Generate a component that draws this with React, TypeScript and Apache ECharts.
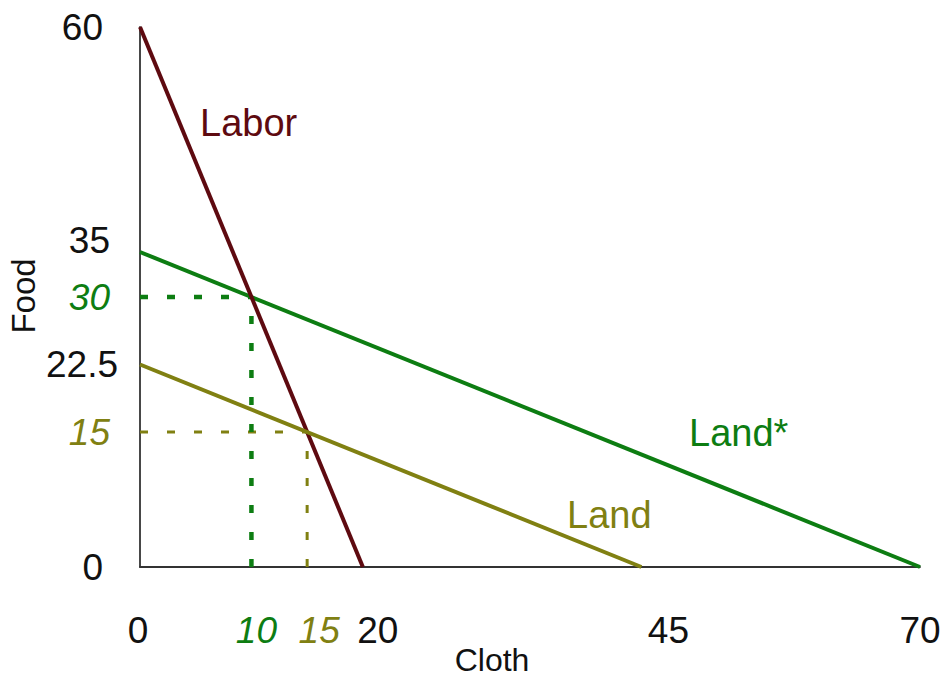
import React, { useEffect, useRef } from "react";
import * as echarts from "echarts";

const laborLine = [[0, 60], [20, 0]];
const landStarLine = [[0, 35], [70, 0]];
const landLine = [[0, 22.5], [45, 0]];
const greenDashH = [[0, 30], [10, 30]];
const greenDashV = [[10, 0], [10, 30]];
const oliveDashH = [[0, 15], [15, 15]];
const oliveDashV = [[15, 0], [15, 15]];
const xTicks = [0, 10, 15, 20, 45, 70];
const yTicks = [0, 15, 22.5, 30, 35, 60];

const MAROON = "#5e0a10";
const GREEN = "#0d7d12";
const OLIVE = "#808012";
const FONT = "'Liberation Sans', Arial, sans-serif";

export default function App() {
  const ref = useRef<HTMLDivElement>(null);
  useEffect(() => {
    const chart = echarts.init(ref.current!, null, { renderer: "svg" });
    const xStyle: Record<string, string> = {
      "0": "x0",
      "10": "x10",
      "15": "x15",
      "20": "x20",
      "45": "x45",
      "70": "x70",
    };
    const yStyle: Record<string, string> = {
      "0": "y0",
      "15": "y15",
      "22.5": "y225",
      "30": "y30",
      "35": "y35",
      "60": "y60",
    };
    const base = { fontSize: 37, fontFamily: FONT, color: "#111" };
    chart.setOption({
      animation: false,
      backgroundColor: "#fff",
      grid: { left: 140, right: 25, top: 27, bottom: 110, containLabel: false },
      xAxis: {
        type: "value",
        min: 0,
        max: 70,
        axisLine: { show: true, lineStyle: { color: "#333", width: 1.8 } },
        axisTick: { show: false },
        splitLine: { show: false },
        axisLabel: {
          customValues: xTicks,
          margin: 45,
          formatter: (v: number) => `{${xStyle[String(v)]}|${v}}`,
          rich: {
            x0: { ...base, padding: [0, 4, 0, 0] },
            x10: { ...base, color: GREEN, fontStyle: "italic", padding: [0, 0, 0, 10] },
            x15: { ...base, color: OLIVE, fontStyle: "italic", padding: [0, 0, 0, 24] },
            x20: { ...base, padding: [0, 0, 0, 30] },
            x45: { ...base, padding: [0, 0, 0, 54] },
            x70: { ...base },
          },
        },
      },
      yAxis: {
        type: "value",
        min: 0,
        max: 60,
        axisLine: { show: true, lineStyle: { color: "#333", width: 1.8 } },
        axisTick: { show: false },
        splitLine: { show: false },
        axisLabel: {
          customValues: yTicks,
          margin: 22,
          formatter: (v: number) => `{${yStyle[String(v)]}|${v}}`,
          rich: {
            y0: { ...base, padding: [0, 15, 0, 0] },
            y15: { ...base, color: OLIVE, fontStyle: "italic", padding: [0, 8, 0, 0] },
            y225: { ...base },
            y30: { ...base, color: GREEN, fontStyle: "italic", padding: [0, 8, 0, 0] },
            y35: { ...base, padding: [0, 8, 24, 0] },
            y60: { ...base, padding: [0, 15, 0, 0] },
          },
        },
      },
      series: [
        {
          type: "line",
          data: oliveDashH,
          symbol: "none",
          lineStyle: { color: OLIVE, width: 3, type: [8, 19] },
        },
        {
          type: "line",
          data: oliveDashV,
          symbol: "none",
          lineStyle: { color: OLIVE, width: 3, type: [8, 19] },
        },
        {
          type: "line",
          data: greenDashH,
          symbol: "none",
          lineStyle: { color: GREEN, width: 4.5, type: [8, 19] },
        },
        {
          type: "line",
          data: greenDashV,
          symbol: "none",
          lineStyle: { color: GREEN, width: 4.5, type: [8, 19] },
        },
        {
          type: "line",
          data: landStarLine,
          symbol: "none",
          lineStyle: { color: GREEN, width: 4 },
        },
        {
          type: "line",
          data: laborLine,
          symbol: "none",
          lineStyle: { color: MAROON, width: 4 },
        },
        {
          type: "line",
          data: landLine,
          symbol: "none",
          lineStyle: { color: OLIVE, width: 4 },
        },
      ],
      graphic: [
        {
          type: "text",
          x: 200,
          y: 123,
          style: { text: "Labor", fill: MAROON, fontSize: 38, fontFamily: FONT, textAlign: "left", textVerticalAlign: "middle" },
        },
        {
          type: "text",
          x: 689,
          y: 433,
          style: { text: "Land*", fill: GREEN, fontSize: 38, fontFamily: FONT, textAlign: "left", textVerticalAlign: "middle" },
        },
        {
          type: "text",
          x: 567,
          y: 515,
          style: { text: "Land", fill: OLIVE, fontSize: 38, fontFamily: FONT, textAlign: "left", textVerticalAlign: "middle" },
        },
        {
          type: "text",
          x: 492,
          y: 660,
          style: { text: "Cloth", fill: "#111", fontSize: 32, fontFamily: FONT, textAlign: "center", textVerticalAlign: "middle" },
        },
        {
          type: "text",
          x: 23,
          y: 296,
          rotation: Math.PI / 2,
          style: { text: "Food", fill: "#111", fontSize: 33, fontFamily: FONT, textAlign: "center", textVerticalAlign: "middle" },
        },
      ],
    });
    return () => chart.dispose();
  }, []);
  return (
    <div
      ref={ref}
      style={{ position: "fixed", left: 0, top: 0, width: 945, height: 677, background: "#fff" }}
    />
  );
}
